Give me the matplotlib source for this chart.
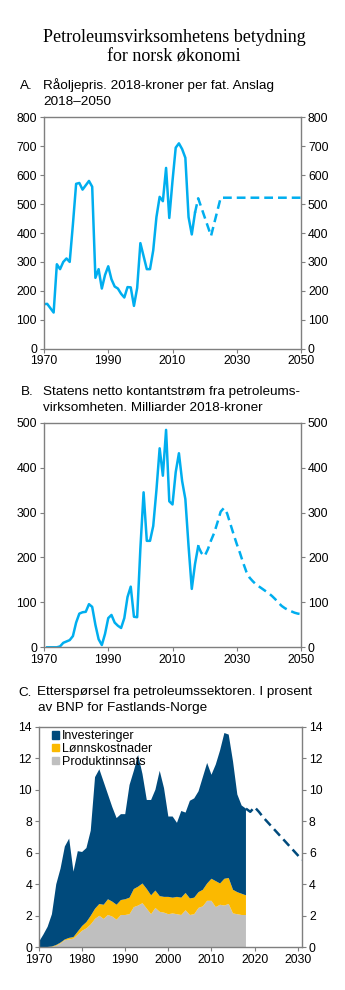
import matplotlib
matplotlib.use("Agg")
import matplotlib.pyplot as plt
from matplotlib.patches import Patch
import numpy as np

# ---- Panel A: crude oil price, 2018-NOK per barrel ----
oil_years = list(range(1970, 2018))
oil_price = [154, 155, 140, 125, 292, 275, 300, 312, 300, 430,
             570, 573, 550, 565, 580, 560, 245, 275, 208, 255,
             285, 240, 215, 208, 190, 177, 213, 212, 148, 210,
             365, 320, 275, 275, 340, 455, 525, 510, 625, 452,
             580, 695, 710, 690, 660, 455, 395, 470]
oil_fc_years = [2017, 2018, 2022, 2025, 2050]
oil_fc_price = [470, 520, 390, 522, 522]

# ---- Panel B: state's net cash flow, bn 2018-NOK ----
cf_years = list(range(1971, 2019))
cash_flow = [0, 0, 0, 0, 2, 10, 13, 16, 25, 55,
             75, 78, 79, 96, 90, 50, 18, 5, 30, 65,
             72, 55, 48, 43, 65, 112, 135, 68, 67, 220,
             345, 237, 237, 270, 350, 443, 382, 484, 325, 318,
             390, 432, 370, 330, 225, 130, 185, 225]
cf_fc_years = list(range(2018, 2051))
cash_flow_fc = [225, 210, 203, 218, 238, 255, 278, 302, 310, 298,
                275, 252, 230, 210, 188, 168, 155, 147, 140, 135,
                130, 125, 120, 114, 107, 99, 92, 87, 83, 80,
                77, 75, 74]

# ---- Panel C: demand from the petroleum sector, % of mainland GDP ----
dem_years = list(range(1970, 2019))
produktinnsats = [0, 0, 0, 0.02, 0.1, 0.25, 0.45, 0.5, 0.55, 0.8,
                  1.05, 1.2, 1.45, 1.8, 2.0, 1.8, 2.05, 1.95, 1.75, 2.05,
                  2.05, 2.1, 2.55, 2.65, 2.8, 2.45, 2.1, 2.5, 2.25, 2.2,
                  2.1, 2.15, 2.1, 2.05, 2.35, 2.05, 2.1, 2.5, 2.6, 2.95,
                  2.95, 2.55, 2.7, 2.65, 2.75, 2.15, 2.1, 2.05, 2.05]
lonnskostnader = [0, 0, 0.02, 0.03, 0.05, 0.05, 0.05, 0.1, 0.1, 0.2,
                  0.3, 0.4, 0.55, 0.65, 0.75, 0.9, 1.0, 0.95, 0.95, 0.95,
                  1.0, 1.05, 1.15, 1.2, 1.25, 1.25, 1.2, 1.1, 1.0, 1.0,
                  1.1, 1.0, 1.1, 1.1, 1.1, 1.05, 1.05, 1.0, 1.05, 1.1,
                  1.4, 1.65, 1.35, 1.7, 1.65, 1.5, 1.4, 1.35, 1.25]
investeringer = [0.35, 0.8, 1.28, 2.05, 3.85, 4.7, 5.9, 6.3, 4.15, 5.1,
                 4.7, 4.7, 5.4, 8.35, 8.55, 7.8, 6.65, 6.0, 5.5, 5.45,
                 5.4, 7.15, 7.5, 8.35, 6.95, 5.65, 6.05, 6.4, 7.95, 6.9,
                 5.1, 5.15, 4.7, 5.5, 5.1, 6.2, 6.3, 6.4, 7.15, 7.65,
                 6.6, 7.4, 8.45, 9.25, 9.1, 8.15, 6.2, 5.6, 5.5]
dem_fc_years = list(range(2018, 2032))
demand_fc = [8.8, 8.6, 8.9, 8.6, 8.25, 7.95, 7.65, 7.35, 7.05, 6.75,
             6.45, 6.15, 5.85, 5.55]

series_labels = ["Investeringer", "Lønnskostnader", "Produktinnsats"]

# ---- styling ----
LIGHT_BLUE = "#00AEEF"
DARK_BLUE = "#004A7C"
YELLOW = "#FBB900"
GREY = "#BFBFBF"
SPINE = "#7F7F7F"
SANS = ["Liberation Sans", "DejaVu Sans"]
SERIF = ["Liberation Serif", "DejaVu Serif"]
plt.rcParams["font.family"] = SANS

HEAD = 9.7
TICK = 8.8

W, H = 345, 990
fig = plt.figure(figsize=(W / 100, H / 100), dpi=100)


def box(left, top, right, bottom):
    return [left / W, 1 - bottom / H, (right - left) / W, (bottom - top) / H]


def ftext(x, y, s, **kw):
    # y is the baseline position in pixels from the top
    fig.text(x / W, 1 - y / H, s, va="baseline", **kw)


def style_axes(ax, ylim, yticks, xlim, xticks):
    ax.set_xlim(*xlim)
    ax.set_ylim(*ylim)
    ax.set_yticks(yticks)
    ax.set_xticks(xticks)
    for sp in ax.spines.values():
        sp.set_color(SPINE)
        sp.set_linewidth(1.0)
    ax.tick_params(axis="both", which="both", direction="out", length=3,
                   width=0.8, color=SPINE, labelsize=TICK, pad=2,
                   labelcolor="black")
    ax.tick_params(axis="y", left=True, right=True, labelleft=True,
                   labelright=True)
    ax.tick_params(axis="x", top=False, pad=1.5)


# Title
ftext(174, 42, "Petroleumsvirksomhetens betydning", ha="center",
      fontsize=13, family=SERIF)
ftext(174, 61, "for norsk økonomi", ha="center", fontsize=13, family=SERIF)

# ---- Panel A ----
ftext(20, 89, "A.", fontsize=HEAD)
ftext(43, 89, "Råoljepris. 2018-kroner per fat. Anslag", fontsize=HEAD)
ftext(43, 105, "2018–2050", fontsize=HEAD)
axA = fig.add_axes(box(44, 117.3, 301, 348.7))
axA.plot(oil_years, oil_price, color=LIGHT_BLUE, lw=1.8,
         solid_joinstyle="round")
axA.plot(oil_fc_years, oil_fc_price, color=LIGHT_BLUE, lw=1.8,
         dashes=(3.5, 2))
style_axes(axA, (0, 800), range(0, 801, 100), (1970, 2050),
           range(1970, 2051, 20))

# ---- Panel B ----
ftext(21, 395, "B.", fontsize=HEAD)
ftext(43, 395, "Statens netto kontantstrøm fra petroleums-", fontsize=HEAD)
ftext(43, 411, "virksomheten. Milliarder 2018-kroner", fontsize=HEAD)
axB = fig.add_axes(box(44, 422.7, 301, 647.3))
axB.plot(cf_years, cash_flow, color=LIGHT_BLUE, lw=1.8,
         solid_joinstyle="round")
axB.plot(cf_fc_years, cash_flow_fc, color=LIGHT_BLUE, lw=1.8,
         dashes=(3.5, 2))
style_axes(axB, (0, 500), range(0, 501, 100), (1970, 2050),
           range(1970, 2051, 20))

# ---- Panel C ----
ftext(18, 695.5, "C.", fontsize=HEAD)
ftext(37, 695.5, "Etterspørsel fra petroleumssektoren. I prosent",
      fontsize=HEAD)
ftext(38, 710.5, "av BNP for Fastlands-Norge", fontsize=HEAD)
axC = fig.add_axes(box(39, 726.7, 302, 947.3))
axC.stackplot(dem_years, produktinnsats, lonnskostnader, investeringer,
              colors=[GREY, YELLOW, DARK_BLUE], linewidth=0)
axC.plot(dem_fc_years, demand_fc, color=DARK_BLUE, lw=1.8, dashes=(3.5, 2))
style_axes(axC, (0, 14), range(0, 15, 2), (1970, 2031),
           range(1970, 2031, 10))
handles = [Patch(color=DARK_BLUE), Patch(color=YELLOW), Patch(color=GREY)]
axC.legend(handles, series_labels, loc="upper left",
           bbox_to_anchor=((48 - 39) / (302 - 39), 1.0),
           frameon=False, fontsize=9, handlelength=0.55, handleheight=0.55,
           handletextpad=0.25, labelspacing=0.05, borderpad=0.1,
           borderaxespad=0.2)

fig.savefig("out.png", dpi=100)
